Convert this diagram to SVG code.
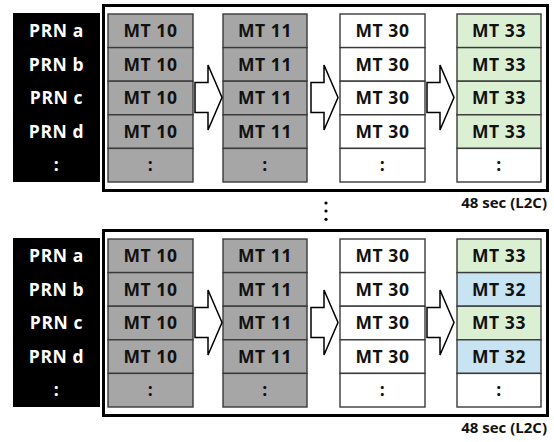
<svg xmlns="http://www.w3.org/2000/svg" width="554" height="442" viewBox="0 0 554 442">
  <style>
    .frame { fill: #ffffff; stroke: #000000; stroke-width: 3; }
    .prn { fill: #000000; }
    .cell { stroke: #3a3a3a; stroke-width: 1.4; }
    .gray { fill: #a6a6a6; }
    .white { fill: #ffffff; }
    .green { fill: #dbf0d3; }
    .blue { fill: #c8e3f2; }
    .t { font-family: "Open Sans", "Liberation Sans", sans-serif; font-weight: bold; font-size: 17.5px; letter-spacing: 0.6px; text-anchor: middle; fill: #111111; }
    .tw { font-family: "Open Sans", "Liberation Sans", sans-serif; font-weight: bold; font-size: 17.5px; letter-spacing: 0.6px; text-anchor: middle; fill: #ffffff; }
    .cap { font-family: "Open Sans", "Liberation Sans", sans-serif; font-weight: bold; font-size: 15px; text-anchor: end; fill: #111111; }
    .arrow { fill: #ffffff; stroke: #000000; stroke-width: 1.5; stroke-linejoin: miter; }
  </style>

  <!-- upper block: all satellites on MT 33 -->
  <g id="block-upper">
    <rect class="frame" x="103.5" y="5.5" width="444" height="185"/>
    <g id="upper-prn">
      <rect class="prn" x="13" y="13" width="87" height="169"/>
      <text class="tw" x="56.5" y="37">PRN a</text>
      <text class="tw" x="56.5" y="70.6">PRN b</text>
      <text class="tw" x="56.5" y="104.2">PRN c</text>
      <text class="tw" x="56.5" y="137.8">PRN d</text>
      <text class="tw" x="56.5" y="171.4">:</text>
    </g>
    <g id="upper-mt10">
      <rect class="cell gray" x="108" y="14" width="85" height="33.6"/>
      <rect class="cell gray" x="108" y="47.6" width="85" height="33.6"/>
      <rect class="cell gray" x="108" y="81.2" width="85" height="33.6"/>
      <rect class="cell gray" x="108" y="114.8" width="85" height="33.6"/>
      <rect class="cell gray" x="108" y="148.4" width="85" height="33.6"/>
      <text class="t" x="150.5" y="37">MT 10</text>
      <text class="t" x="150.5" y="70.6">MT 10</text>
      <text class="t" x="150.5" y="104.2">MT 10</text>
      <text class="t" x="150.5" y="137.8">MT 10</text>
      <text class="t" x="150.5" y="171.4">:</text>
    </g>
    <g id="upper-mt11">
      <rect class="cell gray" x="223" y="14" width="84" height="33.6"/>
      <rect class="cell gray" x="223" y="47.6" width="84" height="33.6"/>
      <rect class="cell gray" x="223" y="81.2" width="84" height="33.6"/>
      <rect class="cell gray" x="223" y="114.8" width="84" height="33.6"/>
      <rect class="cell gray" x="223" y="148.4" width="84" height="33.6"/>
      <text class="t" x="265" y="37">MT 11</text>
      <text class="t" x="265" y="70.6">MT 11</text>
      <text class="t" x="265" y="104.2">MT 11</text>
      <text class="t" x="265" y="137.8">MT 11</text>
      <text class="t" x="265" y="171.4">:</text>
    </g>
    <g id="upper-mt30">
      <rect class="cell white" x="340" y="14" width="85" height="33.6"/>
      <rect class="cell white" x="340" y="47.6" width="85" height="33.6"/>
      <rect class="cell white" x="340" y="81.2" width="85" height="33.6"/>
      <rect class="cell white" x="340" y="114.8" width="85" height="33.6"/>
      <rect class="cell white" x="340" y="148.4" width="85" height="33.6"/>
      <text class="t" x="382.5" y="37">MT 30</text>
      <text class="t" x="382.5" y="70.6">MT 30</text>
      <text class="t" x="382.5" y="104.2">MT 30</text>
      <text class="t" x="382.5" y="137.8">MT 30</text>
      <text class="t" x="382.5" y="171.4">:</text>
    </g>
    <g id="upper-mt33">
      <rect class="cell green" x="457" y="14" width="84" height="33.6"/>
      <rect class="cell green" x="457" y="47.6" width="84" height="33.6"/>
      <rect class="cell green" x="457" y="81.2" width="84" height="33.6"/>
      <rect class="cell green" x="457" y="114.8" width="84" height="33.6"/>
      <rect class="cell white" x="457" y="148.4" width="84" height="33.6"/>
      <text class="t" x="499" y="37">MT 33</text>
      <text class="t" x="499" y="70.6">MT 33</text>
      <text class="t" x="499" y="104.2">MT 33</text>
      <text class="t" x="499" y="137.8">MT 33</text>
      <text class="t" x="499" y="171.4">:</text>
    </g>
    <g id="upper-connectors">
      <polygon class="arrow" points="195,82.5 208,82.5 208,65 222,97.5 208,130 208,112.5 195,112.5"/>
      <polygon class="arrow" points="311,82.5 324,82.5 324,65 338,97.5 324,130 324,112.5 311,112.5"/>
      <polygon class="arrow" points="427,82.5 440,82.5 440,65 454,97.5 440,130 440,112.5 427,112.5"/>
    </g>
    <text class="cap" x="547" y="208">48 sec (L2C)</text>
  </g>

  <!-- vertical ellipsis between the two blocks -->
  <g id="ellipsis" fill="#000000">
    <circle cx="326" cy="203" r="1.6"/>
    <circle cx="326" cy="211" r="1.6"/>
    <circle cx="326" cy="219.3" r="1.6"/>
  </g>

  <!-- lower block: MT 33 and MT 32 alternate -->
  <g id="block-lower" transform="translate(0,225)">
    <rect class="frame" x="103.5" y="5.5" width="444" height="185"/>
    <g id="lower-prn">
      <rect class="prn" x="13" y="13" width="87" height="169"/>
      <text class="tw" x="56.5" y="37">PRN a</text>
      <text class="tw" x="56.5" y="70.6">PRN b</text>
      <text class="tw" x="56.5" y="104.2">PRN c</text>
      <text class="tw" x="56.5" y="137.8">PRN d</text>
      <text class="tw" x="56.5" y="171.4">:</text>
    </g>
    <g id="lower-mt10">
      <rect class="cell gray" x="108" y="14" width="85" height="33.6"/>
      <rect class="cell gray" x="108" y="47.6" width="85" height="33.6"/>
      <rect class="cell gray" x="108" y="81.2" width="85" height="33.6"/>
      <rect class="cell gray" x="108" y="114.8" width="85" height="33.6"/>
      <rect class="cell gray" x="108" y="148.4" width="85" height="33.6"/>
      <text class="t" x="150.5" y="37">MT 10</text>
      <text class="t" x="150.5" y="70.6">MT 10</text>
      <text class="t" x="150.5" y="104.2">MT 10</text>
      <text class="t" x="150.5" y="137.8">MT 10</text>
      <text class="t" x="150.5" y="171.4">:</text>
    </g>
    <g id="lower-mt11">
      <rect class="cell gray" x="223" y="14" width="84" height="33.6"/>
      <rect class="cell gray" x="223" y="47.6" width="84" height="33.6"/>
      <rect class="cell gray" x="223" y="81.2" width="84" height="33.6"/>
      <rect class="cell gray" x="223" y="114.8" width="84" height="33.6"/>
      <rect class="cell gray" x="223" y="148.4" width="84" height="33.6"/>
      <text class="t" x="265" y="37">MT 11</text>
      <text class="t" x="265" y="70.6">MT 11</text>
      <text class="t" x="265" y="104.2">MT 11</text>
      <text class="t" x="265" y="137.8">MT 11</text>
      <text class="t" x="265" y="171.4">:</text>
    </g>
    <g id="lower-mt30">
      <rect class="cell white" x="340" y="14" width="85" height="33.6"/>
      <rect class="cell white" x="340" y="47.6" width="85" height="33.6"/>
      <rect class="cell white" x="340" y="81.2" width="85" height="33.6"/>
      <rect class="cell white" x="340" y="114.8" width="85" height="33.6"/>
      <rect class="cell white" x="340" y="148.4" width="85" height="33.6"/>
      <text class="t" x="382.5" y="37">MT 30</text>
      <text class="t" x="382.5" y="70.6">MT 30</text>
      <text class="t" x="382.5" y="104.2">MT 30</text>
      <text class="t" x="382.5" y="137.8">MT 30</text>
      <text class="t" x="382.5" y="171.4">:</text>
    </g>
    <g id="lower-mt33-32">
      <rect class="cell green" x="457" y="14" width="84" height="33.6"/>
      <rect class="cell blue" x="457" y="47.6" width="84" height="33.6"/>
      <rect class="cell green" x="457" y="81.2" width="84" height="33.6"/>
      <rect class="cell blue" x="457" y="114.8" width="84" height="33.6"/>
      <rect class="cell white" x="457" y="148.4" width="84" height="33.6"/>
      <text class="t" x="499" y="37">MT 33</text>
      <text class="t" x="499" y="70.6">MT 32</text>
      <text class="t" x="499" y="104.2">MT 33</text>
      <text class="t" x="499" y="137.8">MT 32</text>
      <text class="t" x="499" y="171.4">:</text>
    </g>
    <g id="lower-connectors">
      <polygon class="arrow" points="195,82.5 208,82.5 208,65 222,97.5 208,130 208,112.5 195,112.5"/>
      <polygon class="arrow" points="311,82.5 324,82.5 324,65 338,97.5 324,130 324,112.5 311,112.5"/>
      <polygon class="arrow" points="427,82.5 440,82.5 440,65 454,97.5 440,130 440,112.5 427,112.5"/>
    </g>
    <text class="cap" x="547" y="208">48 sec (L2C)</text>
  </g>
</svg>
